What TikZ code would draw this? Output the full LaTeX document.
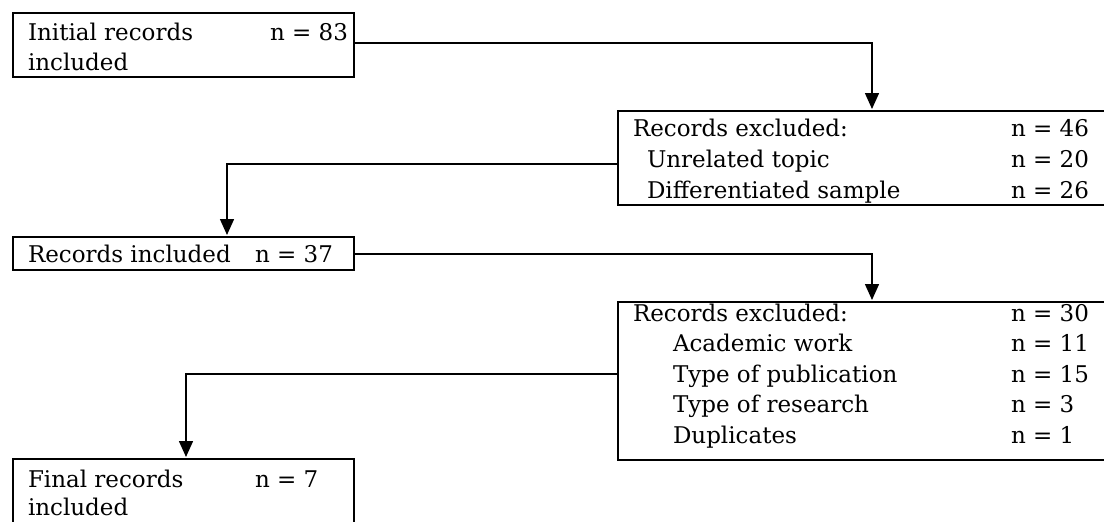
\documentclass[tikz,border=0pt]{standalone}
\usepackage{fontspec}
\setmainfont{DejaVu Serif}
\usetikzlibrary{arrows.meta}
\tikzset{
  box/.style={draw=black, line width=2pt, anchor=north west, inner sep=0pt, outer sep=0pt},
  txt/.style={anchor=base west, inner sep=0pt, outer sep=0pt, font=\fontsize{23}{30.7}\selectfont},
  conn/.style={draw=black, line width=1.5pt, -{Triangle[length=16pt,width=14pt]}, shorten >=2pt}
}
\begin{document}
\begin{tikzpicture}[x=1pt,y=-1pt]
\useasboundingbox (0,0) rectangle (1104,522);
\clip (0,0) rectangle (1104,522);
\fill[white] (0,0) rectangle (1104,522);
% boxes
\node[box, minimum width=341pt, minimum height=64pt] (b1) at (13,13) {};
\node[box, minimum width=500pt, minimum height=94pt] (b2) at (618,111) {};
\node[box, minimum width=341pt, minimum height=33pt] (b3) at (13,237) {};
\node[box, minimum width=500pt, minimum height=158pt] (b4) at (618,302) {};
\node[box, minimum width=341pt, minimum height=90pt] (b5) at (13,459) {};
% box 1
\node[txt] (t1a) at (28,40) {Initial records};
\node[txt] (t1b) at (28,70) {included};
\node[txt] (t1n) at (270,40) {n = 83};
% box 2
\node[txt] (t2a) at (633,136) {Records excluded:};
\node[txt] (t2b) at (647,167) {Unrelated topic};
\node[txt] (t2c) at (647,198) {Differentiated sample};
\node[txt] (t2an) at (1011,136) {n = 46};
\node[txt] (t2bn) at (1011,167) {n = 20};
\node[txt] (t2cn) at (1011,198) {n = 26};
% box 3
\node[txt] (t3a) at (28,262) {Records included};
\node[txt] (t3n) at (255,262) {n = 37};
% box 4
\node[txt] (t4a) at (633,321) {Records excluded:};
\node[txt] (t4b) at (673,351) {Academic work};
\node[txt] (t4c) at (673,382) {Type of publication};
\node[txt] (t4d) at (673,412) {Type of research};
\node[txt] (t4e) at (673,443) {Duplicates};
\node[txt] (t4an) at (1011,321) {n = 30};
\node[txt] (t4bn) at (1011,351) {n = 11};
\node[txt] (t4cn) at (1011,382) {n = 15};
\node[txt] (t4dn) at (1011,412) {n = 3};
\node[txt] (t4en) at (1011,443) {n = 1};
% box 5
\node[txt] (t5a) at (28,487) {Final records};
\node[txt] (t5b) at (28,515) {included};
\node[txt] (t5n) at (255,487) {n = 7};
% connectors
\coordinate (c1) at (872,43);
\coordinate (c2) at (227,164);
\coordinate (c3) at (872,254);
\coordinate (c4) at (186,374);
\draw[conn] (b1.east |- c1) -- (c1) -- (c1 |- b2.north);
\draw[conn] (b2.west |- c2) -- (c2) -- (c2 |- b3.north);
\draw[conn] (b3.east |- c3) -- (c3) -- (c3 |- b4.north);
\draw[conn] (b4.west |- c4) -- (c4) -- (c4 |- b5.north);
\end{tikzpicture}
\end{document}
